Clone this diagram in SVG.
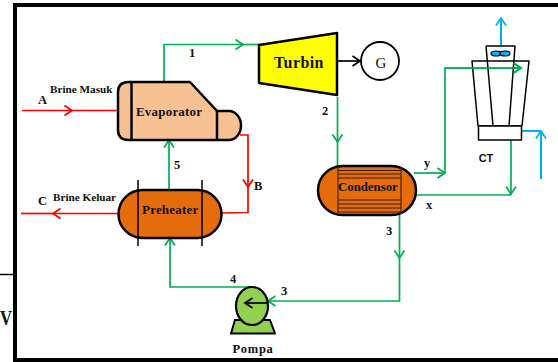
<svg xmlns="http://www.w3.org/2000/svg" width="558" height="362" viewBox="0 0 558 362">
<style>
.s{stroke:#000;stroke-linejoin:round}
.c{fill:none;stroke-width:1.700;stroke-linejoin:miter}
.g{stroke:#00B050}.r{stroke:#FF0000}.b{stroke:#00B0F0;stroke-width:2}.k{stroke:#000}
text{font-family:"Liberation Serif","Times New Roman",serif;font-weight:bold;fill:#111}
.m{font-size:13px;letter-spacing:.2px}.n{font-size:12.5px}.l{font-size:11.200px}
</style>
<defs>
<marker id="ag" markerUnits="userSpaceOnUse" markerWidth="14" markerHeight="16" refX="10" refY="8" orient="auto"><path d="M2.500 3L10 8L2.500 13" fill="none" stroke="#00B050" stroke-width="1.800"/></marker>
<marker id="ar" markerUnits="userSpaceOnUse" markerWidth="14" markerHeight="16" refX="10" refY="8" orient="auto"><path d="M2.500 3L10 8L2.500 13" fill="none" stroke="#FF0000" stroke-width="1.800"/></marker>
<marker id="ab" markerUnits="userSpaceOnUse" markerWidth="14" markerHeight="16" refX="10" refY="8" orient="auto"><path d="M2.500 3L10 8L2.500 13" fill="none" stroke="#00B0F0" stroke-width="1.800"/></marker>
<marker id="ak" markerUnits="userSpaceOnUse" markerWidth="14" markerHeight="16" refX="10" refY="8" orient="auto"><path d="M2.500 3L10 8L2.500 13" fill="none" stroke="#000" stroke-width="1.800"/></marker>
</defs>
<rect width="558" height="362" fill="#fff"/>
<g id="frame">
<path d="M0 274.500H13" stroke="#000" stroke-width="1.500"/>
<path d="M558 5H15V360H558" fill="none" stroke="#000" stroke-width="4"/>
<text x="0" y="325" font-size="21" textLength="12" lengthAdjust="spacingAndGlyphs">V</text>
</g>
<g id="connectors">
<path class="c g" d="M164 82V44.500H243" marker-end="url(#ag)"/><path class="c g" d="M243 44.500H259"/>
<path class="c g" d="M337.500 97V142" marker-end="url(#ag)"/><path class="c g" d="M337.500 142V166"/>
<path class="c g" d="M414 173H445" marker-end="url(#ag)"/><path class="c g" d="M445 173V68H521" marker-end="url(#ag)"/>
<path class="c g" d="M511 140V194" marker-end="url(#ag)"/><path class="c g" d="M511 195H415"/>
<path class="c g" d="M399.500 214V258" marker-end="url(#ag)"/><path class="c g" d="M399.500 258V301H268" marker-end="url(#ag)"/>
<path class="c g" d="M250 287H170V238" marker-end="url(#ag)"/>
<path class="c g" d="M169 190V140" marker-end="url(#ag)"/>
<path class="c r" d="M22 110.500H72" marker-end="url(#ar)"/><path class="c r" d="M72 110.500H118"/>
<path class="c r" d="M240 135H248V187" marker-end="url(#ar)"/><path class="c r" d="M248 187V212.500L222 213"/>
<path class="c r" d="M118 213.500H53" marker-end="url(#ar)"/><path class="c r" d="M53 213.500H21"/>
<path class="c b" d="M501 46V18" marker-end="url(#ab)"/>
<path class="c b" d="M522 131H541"/><path class="c b" d="M541 179V131" marker-end="url(#ab)"/>
<path class="c k" d="M337 61H360" marker-end="url(#ak)"/>
</g>
<g id="evaporator">
<path class="s" fill="#F8C193" stroke-width="2.500" d="M129 82H190L217 111H229A12 14.500 0 0 1 241 125.500A12 14.500 0 0 1 229 140H129Q118 140 118 130V92Q118 82 129 82Z"/>
<path class="s" d="M131.500 82V140M217 111V140" stroke-width="2.500"/>
<text class="m" x="136" y="116">Evaporator</text>
</g>
<g id="turbin">
<path class="s" fill="#FFFF00" stroke-width="2.500" d="M259 45L337 33V95L259 83Z"/>
<text x="274" y="68" font-size="16" letter-spacing=".4">Turbin</text>
</g>
<g id="generator">
<circle class="s" cx="380" cy="61" r="19" fill="#fff" stroke-width="1.800"/>
<text x="381" y="68" font-size="15" text-anchor="middle" style="font-weight:normal">G</text>
</g>
<g id="preheater">
<rect class="s" x="118.500" y="190" width="103" height="48" rx="24" fill="#E46C0A" stroke-width="2.500"/>
<path class="s" d="M138 180V246M202 180V246" stroke-width="1.500"/>
<text class="m" x="142" y="214">Preheater</text>
</g>
<g id="condensor">
<rect class="s" x="318" y="166" width="98" height="49" rx="24.500" fill="#E46C0A" stroke-width="2.500"/>
<path d="M338 167V214M401 167V214" stroke="#5b2c00" stroke-width="1.300"/>
<path d="M338 170.500H401M338 174H401M338 178H401M338 200H401M338 204H401M338 208H401M338 212H401" stroke="#3a1c00" stroke-width="1.200"/>
<text x="338" y="191" font-size="12.800">Condensor</text>
</g>
<g id="pompa">
<path class="s" fill="#92D050" stroke-width="2" d="M235 320L231 333.500H275L270 320Z"/>
<ellipse class="s" cx="252" cy="306" rx="16" ry="19" fill="#92D050" stroke-width="2.200"/>
<path class="c k" d="M268 303H245" marker-end="url(#ak)"/>
<text x="253" y="353" font-size="12.500" text-anchor="middle" letter-spacing="0.700">Pompa</text>
</g>
<g id="ct">
<path class="s" fill="none" stroke-width="1.500" d="M472 61H529L522 126H478ZM486 46H515L509 126M486 46L493 126"/>
<rect class="s" x="478.500" y="126" width="43" height="14" fill="#fff" stroke-width="1.500"/>
<ellipse class="s" cx="496" cy="53.500" rx="5" ry="2.500" fill="#00B0F0" stroke-width="1.200"/>
<ellipse class="s" cx="505" cy="53.500" rx="5" ry="2.500" fill="#00B0F0" stroke-width="1.200"/>
<path class="c g" d="M445 68H521" marker-end="url(#ag)"/>
<text x="486" y="162" font-size="11" text-anchor="middle" style="font-family:'Liberation Sans',Arial,sans-serif">CT</text>
</g>
<g id="labels">
<text class="l" x="50" y="93">Brine Masuk</text>
<text class="l" x="53" y="201">Brine Keluar</text>
<text class="n" x="38" y="104">A</text>
<text class="n" x="38" y="205">C</text>
<text class="n" x="254" y="190">B</text>
<text class="n" x="189" y="57">1</text>
<text class="n" x="322" y="115">2</text>
<text class="n" x="174" y="169">5</text>
<text class="n" x="386" y="235">3</text>
<text class="n" x="281" y="295">3</text>
<text class="n" x="230" y="283">4</text>
<text class="n" x="424" y="167">y</text>
<text class="n" x="426" y="209">x</text>
</g>
</svg>
